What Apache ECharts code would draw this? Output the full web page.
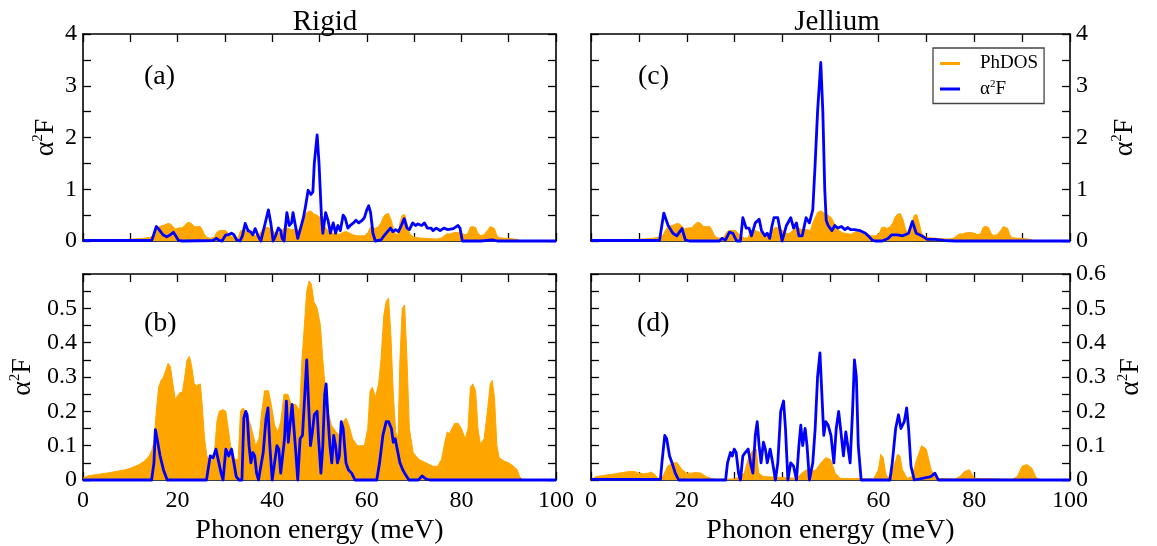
<!DOCTYPE html>
<html>
<head>
<meta charset="utf-8">
<script src="https://cdn.jsdelivr.net/npm/echarts@6/dist/echarts.min.js"></script>
<style>
html,body{margin:0;padding:0;background:#fff;}
#c{width:1157px;height:546px;}
</style>
</head>
<body>
<div id="c"></div>
<script>
// ---------------- DATA ----------------
const xTicks = [0, 20, 40, 60, 80, 100];
const panelTitles = ['Rigid', 'Jellium'];
const panelLabels = ['(a)', '(b)', '(c)', '(d)'];
const seriesNames = ['PhDOS', 'a2F'];

// Phonon DOS (rigid lattice), shown in panels a, b, c
const phdosRigid = [
 [0,0.005],[1,0.012],[3,0.016],[5,0.02],[7,0.025],[9,0.03],[10,0.034],[11,0.04],[12,0.046],[13,0.055],
 [14,0.07],[14.5,0.085],[15,0.11],[15.5,0.2],[16,0.27],[16.5,0.29],[17,0.3],[17.5,0.32],[18,0.34],[18.5,0.33],
 [19,0.28],[19.5,0.235],[20,0.245],[20.5,0.255],[21,0.255],[21.5,0.3],[22,0.35],[22.5,0.36],[23,0.33],[23.5,0.28],
 [24,0.275],[24.8,0.28],[25.2,0.22],[25.7,0.12],[26.2,0.07],[27,0.05],[27.8,0.08],[28.3,0.17],[28.8,0.2],[29.5,0.205],
 [30.2,0.2],[30.7,0.15],[31.2,0.1],[32,0.06],[32.8,0.06],[33.3,0.2],[33.8,0.21],[34.3,0.2],[35,0.18],[35.8,0.14],
 [36.5,0.1],[37.2,0.12],[37.8,0.2],[38.4,0.26],[39.2,0.26],[39.8,0.22],[40.5,0.16],[41.2,0.14],[41.8,0.17],[42.5,0.25],
 [43.3,0.25],[44,0.22],[45,0.22],[45.8,0.2],[46.3,0.35],[46.8,0.45],[47.3,0.55],[47.8,0.58],[48.3,0.57],[48.8,0.52],
 [49.5,0.5],[50.2,0.45],[50.7,0.35],[51.2,0.27],[51.8,0.2],[52.5,0.16],[53.5,0.14],[54.3,0.13],[55,0.17],[55.6,0.18],
 [56.2,0.16],[57,0.12],[58,0.1],[59.5,0.1],[60.2,0.15],[60.7,0.26],[61.2,0.27],[61.8,0.24],[62.5,0.28],[63,0.35],
 [63.6,0.48],[64.1,0.52],[64.6,0.53],[65.1,0.42],[65.6,0.25],[66.1,0.14],[66.6,0.12],[67,0.35],[67.5,0.5],[68,0.51],
 [68.5,0.35],[69,0.15],[69.8,0.08],[71,0.06],[72.5,0.05],[74,0.04],[75,0.04],[75.8,0.06],[76.5,0.11],[77,0.14],
 [77.5,0.135],[78,0.15],[78.6,0.165],[79.3,0.165],[80,0.15],[80.8,0.12],[81.4,0.15],[81.9,0.27],[82.4,0.28],[83,0.26],
 [83.5,0.15],[84,0.105],[84.8,0.12],[85.5,0.2],[86.1,0.28],[86.5,0.29],[87,0.24],[87.5,0.1],[88,0.065],[89,0.055],
 [90,0.05],[91,0.04],[91.8,0.03],[92.3,0.01],[93,0],[100,0]
];

// alpha^2 F, rigid, panel (a)
const a2fRigidA = [
 [0,0.01],[14.5,0.01],[14.7,0.05],[15.5,0.28],[16.1,0.22],[16.9,0.12],[17.7,0.08],[18.5,0.12],[19.1,0.17],[19.6,0.1],
 [20.2,0.01],[21,0],[27.5,0.01],[28.2,0.05],[28.8,0.01],[29.4,0],[30.2,0.12],[30.7,0.12],[31.4,0.15],[31.9,0.12],
 [32.5,0.02],[33.2,0],[33.7,0.1],[34.3,0.34],[34.9,0.2],[35.4,0.18],[35.9,0.12],[36.4,0.24],[37,0.1],[37.6,0],
 [38.4,0.3],[39.2,0.6],[39.7,0.35],[40.2,0],[40.7,0.1],[41.3,0.25],[41.8,0.2],[42.1,0.05],[42.5,0],[43.1,0.55],
 [43.6,0.3],[44.1,0.35],[44.4,0.55],[44.9,0.3],[45.4,0.05],[46,0.25],[46.6,0.45],[47.1,0.7],[47.6,0.98],[48.2,0.9],
 [48.6,0.95],[48.9,1.5],[49.5,2.05],[49.9,1.5],[50.4,0.5],[50.7,0.15],[51.3,0.55],[51.8,0.4],[52.3,0.15],[52.9,0.35],
 [53.4,0.15],[53.9,0.3],[54.4,0.2],[55,0.5],[55.4,0.45],[56,0.25],[56.5,0.3],[57.2,0.35],[57.7,0.4],[58.3,0.35],
 [59,0.4],[59.5,0.45],[60,0.6],[60.4,0.68],[60.8,0.55],[61.3,0.15],[61.8,0],[63,0.02],[63.8,0.12],[65,0.25],
 [65.5,0.18],[66.1,0.22],[66.7,0.18],[67.3,0.3],[67.9,0.43],[68.5,0.25],[69,0.22],[69.7,0.35],[70.3,0.3],[70.8,0.33],
 [71.6,0.3],[72.2,0.35],[72.8,0.25],[73.6,0.25],[74,0.2],[74.7,0.25],[75.5,0.2],[76.3,0.25],[77.1,0.22],[78.3,0.24],
 [79.3,0.3],[79.7,0.25],[80.2,0],[84.1,0],[86.5,0.02],[87.6,0],[100,0]
];

// alpha^2 F, rigid, panel (b)
const a2fRigidB = [
 [0,0],[14.5,0],[15,0.05],[15.3,0.147],[15.8,0.11],[16.3,0.07],[17,0.03],[17.8,0],[26.1,0],[26.9,0.07],
 [27.5,0.065],[28.1,0.09],[28.5,0.09],[29.2,0.02],[29.6,0],[30.2,0.09],[30.8,0.07],[31.4,0.09],[31.8,0.085],[32.4,0.01],
 [33,0],[33.6,0],[34,0.18],[34.4,0.2],[34.7,0.19],[35.1,0.1],[35.5,0.05],[35.9,0.08],[36.3,0.07],[36.7,0.02],
 [37.1,0],[38.1,0.08],[38.7,0.18],[39.1,0.21],[39.5,0.1],[40,0],[40.6,0.06],[41,0.1],[41.4,0.09],[41.8,0.02],
 [42.2,0.02],[42.6,0.12],[43,0.23],[43.4,0.11],[43.8,0.11],[44.2,0.22],[44.6,0.22],[45,0.08],[45.4,0],[45.9,0.12],
 [46.4,0.13],[46.9,0.25],[47.3,0.35],[47.7,0.22],[48.1,0.1],[48.5,0.14],[48.9,0.19],[49.5,0.2],[49.8,0.12],[50.3,0.02],
 [50.7,0.1],[51.1,0.25],[51.4,0.28],[51.8,0.18],[52.2,0.1],[52.6,0.05],[53,0.13],[53.4,0.1],[53.8,0.05],[54.2,0.07],
 [54.6,0.17],[55,0.15],[55.6,0.05],[56.1,0.03],[56.8,0.02],[57.5,0],[62.1,0],[62.7,0.05],[63.4,0.13],[64.1,0.17],
 [64.6,0.17],[65.2,0.15],[65.6,0.11],[66,0.12],[66.4,0.12],[67,0.05],[67.6,0.03],[68.2,0.015],[68.9,0],[70.9,0],
 [71.7,0.012],[72.5,0.003],[73.3,0],[100,0]
];

// alpha^2 F, jellium, panel (c)
const a2fJelliumC = [
 [0,0.01],[14.3,0.01],[15.2,0.54],[16.1,0.3],[17.1,0.15],[17.9,0.1],[19,0.24],[19.7,0.02],[20.5,0],[26.8,0],
 [27.3,0.05],[28.1,0.02],[28.9,0.17],[29.6,0.15],[30.4,0],[31.2,0],[31.7,0.45],[32.4,0.25],[33,0.25],[33.5,0.1],
 [34.3,0.35],[35.1,0.42],[35.6,0.2],[36.3,0.1],[36.8,0.15],[37.3,0.05],[37.8,0.3],[38.2,0.45],[39,0.45],[39.5,0.2],
 [39.9,0],[40.8,0.3],[41.7,0.45],[42.3,0.25],[42.9,0.35],[43.4,0.1],[44.1,0.1],[44.9,0.45],[45.6,0.35],[46.3,0.6],
 [46.8,1.5],[47.3,2.5],[47.97,3.45],[48.4,2.5],[48.8,1.0],[49.1,0.4],[49.5,0.3],[50.3,0.2],[50.9,0.3],[51.5,0.25],
 [52.3,0.28],[53,0.22],[53.6,0.26],[54.2,0.22],[55,0.22],[56.2,0.2],[57.3,0.15],[58.1,0.08],[58.7,0.02],[59.3,0],
 [60.8,0],[62,0.05],[62.8,0.12],[64,0.12],[65.1,0.1],[66.3,0.15],[67.1,0.38],[67.9,0.15],[68.6,0.12],[69.4,0.08],
 [70.2,0.03],[71.8,0.03],[73.7,0.01],[76.1,0],[100,0]
];

// Phonon DOS (jellium), panel (d)
const phdosJelliumD = [
 [0,0],[1,0.01],[5,0.018],[8,0.025],[9,0.025],[10,0.02],[11,0.018],[12,0.02],[12.5,0.023],[13,0.02],
 [14,0.005],[15,0.01],[16,0.04],[17,0.05],[18,0.05],[19,0.03],[20,0.02],[21,0.02],[22,0.022],[23,0.02],
 [24,0.01],[25,0.005],[26,0.002],[30,0.003],[31,0.01],[32,0.02],[33,0.07],[34,0.09],[34.5,0.09],[35,0.02],
 [36,0.01],[43,0.005],[44,0.02],[45,0.03],[46,0.025],[47,0.03],[48,0.05],[49,0.065],[50,0.06],[51,0.02],
 [52,0.005],[59,0.003],[60,0.03],[60.5,0.075],[61,0.065],[61.5,0.02],[62,0.005],[63,0.03],[64,0.075],[64.5,0.07],
 [65,0.03],[66,0.005],[67,0.01],[68,0.06],[69,0.1],[70,0.09],[71,0.03],[72,0.005],[76,0.003],[77,0.01],
 [78,0.025],[79,0.03],[80,0.005],[88,0.002],[89,0.01],[90,0.04],[91,0.045],[92,0.035],[93,0.005],[94,0],[100,0]
];

// alpha^2 F, jellium, panel (d)
const a2fJelliumD = [
 [0,0.002],[14.5,0.002],[14.8,0.05],[15.4,0.13],[15.8,0.12],[16.4,0.07],[16.9,0.05],[17.6,0.02],[18.3,0],[28.1,0],
 [28.5,0.05],[29.1,0.08],[29.5,0.07],[29.9,0.09],[30.3,0.08],[30.8,0.02],[31.2,0],[31.7,0.07],[32.2,0.08],[32.8,0.09],
 [33.3,0.05],[33.8,0.02],[34.3,0.13],[34.7,0.17],[35.1,0.1],[35.5,0.05],[36,0.11],[36.4,0.09],[36.8,0.05],[37.4,0.09],
 [37.8,0.06],[38.5,0],[39,0.05],[39.6,0.2],[40.2,0.23],[40.6,0.15],[41.1,0],[41.7,0.05],[42.3,0.04],[42.9,0],
 [43.4,0.1],[43.8,0.16],[44.2,0.1],[44.7,0.15],[45.1,0.1],[45.6,0],[46.3,0.05],[46.8,0.15],[47.3,0.3],[47.8,0.37],
 [48.2,0.25],[48.6,0.13],[49,0.17],[49.5,0.16],[50.1,0.13],[50.7,0.05],[51.2,0.15],[51.7,0.2],[52.1,0.15],[52.7,0.07],
 [53.2,0.14],[53.6,0.14],[54.1,0.05],[54.6,0.2],[55,0.35],[55.4,0.3],[55.8,0.1],[56.4,0],[62.4,0],[62.9,0.05],
 [63.6,0.15],[64.2,0.19],[64.7,0.15],[65.4,0.17],[65.9,0.21],[66.3,0.15],[66.8,0.04],[67.5,0],[71,0.01],[71.8,0.02],
 [72.5,0],[100,0]
];

// ---------------- CHART ----------------
const ORANGE = '#FFA500', BLUE = '#0000FF';
const FONT = 'Liberation Serif';
const grids = [
  {left: 83, top: 34, width: 473, height: 207},   // a
  {left: 83, top: 274, width: 473, height: 206},  // b
  {left: 591, top: 34, width: 479, height: 207},  // c
  {left: 591, top: 274, width: 479, height: 206}  // d
];
const yRanges = [
  {max: 4, interval: 1}, {max: 0.6, interval: 0.1},
  {max: 4, interval: 1}, {max: 0.6, interval: 0.1}
];
const labelSide = ['left', 'left', 'right', 'right'];
const bottomRow = [false, true, false, true];
const yNameGap = [23, 46, 40, 46];

const richName = {
  g: {fontFamily: FONT, fontSize: 28, color: '#000'},
  s: {fontFamily: FONT, fontSize: 15, color: '#000', verticalAlign: 'top', padding: [0, 0, 14, 0]}
};
function fmtY(v, i, isLabelSide) {
  const r = yRanges[i];
  if (!isLabelSide) return '';
  if (r.max < 1) {
    const t = Number(v.toFixed(1));
    if (i === 1 && t >= 0.6) return '';
    return String(t);
  }
  return String(Math.round(v));
}

const xAxes = [], yAxes = [];
grids.forEach((g, i) => {
  const common = {
    gridIndex: i, type: 'value', min: 0, max: 100, interval: 20,
    axisLine: {show: true, onZero: false, lineStyle: {color: '#000', width: 1.6}},
    axisTick: {show: true, inside: true, length: 8, lineStyle: {color: '#000', width: 1.3}},
    minorTick: {show: true, splitNumber: 2, length: 8, lineStyle: {color: '#000', width: 1.3}},
    splitLine: {show: false}
  };
  xAxes.push(Object.assign({}, common, {
    position: 'bottom',
    axisLabel: {show: bottomRow[i], color: '#000', fontFamily: FONT, fontSize: 24, margin: 9},
    name: bottomRow[i] ? 'Phonon energy (meV)' : '',
    nameLocation: 'middle', nameGap: 37,
    nameTextStyle: {fontFamily: FONT, fontSize: 28, color: '#000'}
  }));
  xAxes.push(Object.assign({}, common, {position: 'top', axisLabel: {show: false}}));
  ['left', 'right'].forEach(side => {
    const isLab = side === labelSide[i];
    yAxes.push({
      gridIndex: i, type: 'value', min: 0, max: yRanges[i].max, interval: yRanges[i].interval,
      position: side,
      axisLine: {show: true, onZero: false, lineStyle: {color: '#000', width: 1.6}},
      axisTick: {show: true, inside: true, length: 8, lineStyle: {color: '#000', width: 1.3}},
      minorTick: {show: true, splitNumber: 2, length: 8, lineStyle: {color: '#000', width: 1.3}},
      splitLine: {show: false},
      axisLabel: {show: isLab, color: '#000', fontFamily: FONT, fontSize: 24, margin: 6,
        formatter: v => fmtY(v, i, isLab)},
      name: isLab ? '{g|α}{s|2}{g|F}' : '',
      nameLocation: 'middle', nameRotate: 90,
      nameGap: yNameGap[i],
      nameTextStyle: {rich: richName}
    });
  });
});

function mkSeries(i, dos, a2f) {
  return [{
    name: 'PhDOS', type: 'line', xAxisIndex: 2 * i, yAxisIndex: 2 * i,
    data: dos, showSymbol: false, symbol: 'none', clip: true,
    itemStyle: {color: ORANGE},
    lineStyle: {color: ORANGE, width: 1},
    areaStyle: {color: ORANGE, opacity: 1},
    silent: true, z: 2
  }, {
    name: 'a2F', type: 'line', xAxisIndex: 2 * i, yAxisIndex: 2 * i,
    data: a2f, showSymbol: false, symbol: 'none', clip: false,
    itemStyle: {color: BLUE},
    lineStyle: {color: BLUE, width: 2.8, join: 'round'},
    silent: true, z: 3
  }];
}
const series = [].concat(
  mkSeries(0, phdosRigid, a2fRigidA),
  mkSeries(1, phdosRigid, a2fRigidB),
  mkSeries(2, phdosRigid, a2fJelliumC),
  mkSeries(3, phdosJelliumD, a2fJelliumD)
);

const titleStyle = {fontFamily: FONT, fontSize: 29, fontWeight: 'normal', color: '#000'};
const labelStyle = {fontFamily: FONT, fontSize: 28, fontWeight: 'normal', color: '#000'};
const titles = [
  {text: panelTitles[0], left: 320, top: 3, textAlign: 'center', textStyle: titleStyle},
  {text: panelTitles[1], left: 832, top: 3, textAlign: 'center', textStyle: titleStyle},
  {text: panelLabels[0], left: 139, top: 58, textStyle: labelStyle},
  {text: panelLabels[1], left: 139, top: 305, textStyle: labelStyle},
  {text: panelLabels[2], left: 633, top: 58, textStyle: labelStyle},
  {text: panelLabels[3], left: 632, top: 305, textStyle: labelStyle}
];

const chart = echarts.init(document.getElementById('c'), null, {renderer: 'canvas'});
chart.setOption({
  animation: false,
  backgroundColor: '#fff',
  title: titles,
  grid: grids.map(g => Object.assign({containLabel: false}, g)),
  xAxis: xAxes,
  yAxis: yAxes,
  legend: {
    show: true, selectedMode: false, orient: 'vertical',
    left: 933, top: 48,
    data: [{name: seriesNames[0], icon: 'rect'}, {name: seriesNames[1], icon: 'rect'}],
    itemWidth: 20, itemHeight: 3, itemGap: 6,
    borderColor: '#444', borderWidth: 1.3, padding: [6, 6, 5, 7],
    formatter: n => n === 'a2F' ? '{g|α}{s|2}{g|F}' : '{g|PhDOS}',
    textStyle: {
      rich: {
        g: {fontFamily: FONT, fontSize: 19, color: '#000', padding: [0, 0, 0, 0]},
        s: {fontFamily: FONT, fontSize: 11, color: '#000', verticalAlign: 'top', padding: [0, 0, 9, 0]}
      },
      padding: [0, 0, 0, 15]
    }
  },
  series: series
});
</script>
</body>
</html>
